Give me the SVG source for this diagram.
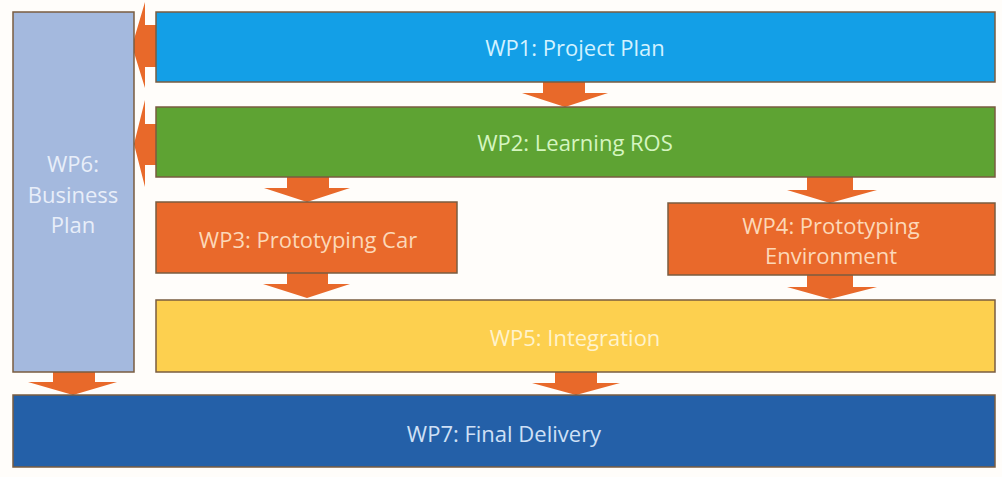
<svg xmlns="http://www.w3.org/2000/svg" width="1002" height="477" viewBox="0 0 1002 477">
<style>
.box{stroke:#7a5c40;stroke-width:1.5}
.arr{fill:#e8692a}
text{font-family:"Open Sans","Liberation Sans",sans-serif;font-size:22px;text-anchor:middle;dominant-baseline:central}
</style>
<rect width="1002" height="477" fill="#fffdfa"/>
<g id="connectors">
<polygon class="arr" points="157,25 145,25 145,2 132,46 145,88 145,67 157,67"/>
<polygon class="arr" points="157,124 145,124 145,100 134,144 145,187 145,165 157,165"/>
<polygon class="arr" points="543,82 585,82 585,93 608,93 565,107 522,93 543,93"/>
<polygon class="arr" points="287,177 329,177 329,188 350,188 307,202 264,188 287,188"/>
<polygon class="arr" points="807,177 853,177 853,190 877,190 830,203 787,190 807,190"/>
<polygon class="arr" points="287,273 328,273 328,284 350,284 307,298 263,284 287,284"/>
<polygon class="arr" points="807,275 853,275 853,287 877,287 830,299 787,287 807,287"/>
<polygon class="arr" points="555,372 597,372 597,383 620,383 576,395 532,383 555,383"/>
<polygon class="arr" points="53,371 95,371 95,382 117,382 73,395 28,382 53,382"/>
</g>
<g id="wp6"><rect class="box" x="13" y="12" width="121" height="360" fill="#a4b9de"/>
<text x="73" y="163" fill="#e8eef9">WP6:</text><text x="73" y="194" fill="#e8eef9">Business</text><text x="73" y="224" fill="#e8eef9">Plan</text></g>
<g id="wp1"><rect class="box" x="156" y="12" width="839" height="70" fill="#139fe7"/>
<text x="575" y="47" fill="#d2f2ff">WP1: Project Plan</text></g>
<g id="wp2"><rect class="box" x="156" y="107" width="839" height="70" fill="#5ea333"/>
<text x="575" y="142" fill="#d5f5c0">WP2: Learning ROS</text></g>
<g id="wp3"><rect class="box" x="156" y="202" width="301" height="71" fill="#e9692b"/>
<text x="308" y="239" fill="#fcd8b8">WP3: Prototyping Car</text></g>
<g id="wp4"><rect class="box" x="668" y="203" width="327" height="72" fill="#e9692b"/>
<text x="831" y="225" fill="#fcd8b8">WP4: Prototyping</text><text x="831" y="255" fill="#fcd8b8">Environment</text></g>
<g id="wp5"><rect class="box" x="156" y="300" width="839" height="72" fill="#fdd04f"/>
<text x="575" y="337" fill="#fff3cc">WP5: Integration</text></g>
<g id="wp7"><rect class="box" x="13" y="395" width="982" height="72" fill="#2460a8"/>
<text x="504" y="433" fill="#cfe0f6">WP7: Final Delivery</text></g>
</svg>
